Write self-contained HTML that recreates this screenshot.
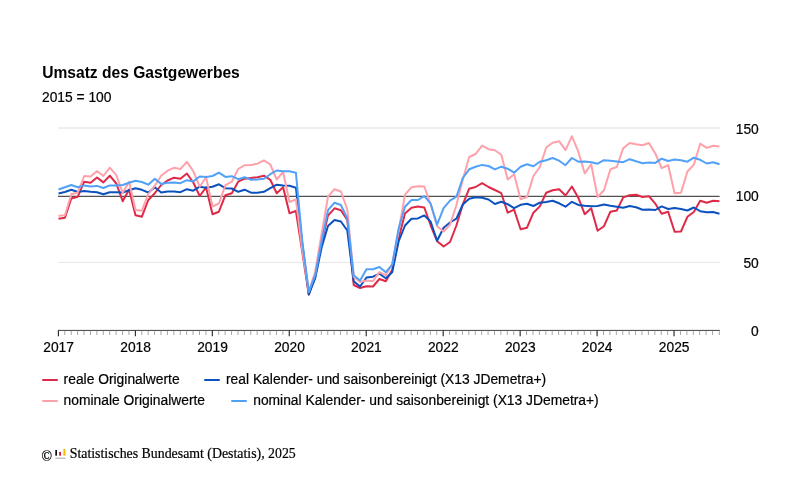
<!DOCTYPE html>
<html lang="de"><head><meta charset="utf-8"><title>Umsatz des Gastgewerbes</title>
<style>
html,body{margin:0;padding:0;background:#fff}
body{width:800px;height:500px;position:relative;overflow:hidden;font-family:"Liberation Sans",sans-serif;color:#000}
.t{position:absolute;white-space:nowrap;line-height:1}
.title{left:42.2px;top:65.3px;font-size:15.6px;font-weight:bold}
.sub{left:42px;top:90.7px;font-size:13.8px;-webkit-text-stroke:0.2px #000}
.lg{font-size:13.83px;-webkit-text-stroke:0.2px #000}
.sw{position:absolute;height:2px;width:16px;border-radius:1px}
.foot{font-family:"Liberation Serif",serif;font-size:13.85px;-webkit-text-stroke:0.2px #000}
</style></head><body>
<svg width="800" height="500" viewBox="0 0 800 500" style="position:absolute;left:0;top:0">
<line x1="58" x2="719.8" y1="128" y2="128" stroke="#dedede" stroke-width="1"/>
<line x1="58" x2="719.8" y1="262.4" y2="262.4" stroke="#dcdcdc" stroke-width="0.7"/>
<line x1="58" x2="719.6" y1="196.3" y2="196.3" stroke="#262626" stroke-width="1"/>
<line x1="58" x2="719.8" y1="330.4" y2="330.4" stroke="#2a2a2a" stroke-width="0.9"/>
<path d="M64.81 330.5V335M71.23 330.5V335M77.64 330.5V335M84.05 330.5V335M90.47 330.5V335M96.88 330.5V335M103.29 330.5V335M109.70 330.5V335M116.12 330.5V335M122.53 330.5V335M128.94 330.5V335M141.77 330.5V335M148.18 330.5V335M154.59 330.5V335M161.01 330.5V335M167.42 330.5V335M173.83 330.5V335M180.25 330.5V335M186.66 330.5V335M193.07 330.5V335M199.49 330.5V335M205.90 330.5V335M218.73 330.5V335M225.14 330.5V335M231.55 330.5V335M237.96 330.5V335M244.38 330.5V335M250.79 330.5V335M257.20 330.5V335M263.62 330.5V335M270.03 330.5V335M276.44 330.5V335M282.86 330.5V335M295.68 330.5V335M302.09 330.5V335M308.51 330.5V335M314.92 330.5V335M321.33 330.5V335M327.75 330.5V335M334.16 330.5V335M340.57 330.5V335M346.99 330.5V335M353.40 330.5V335M359.81 330.5V335M372.64 330.5V335M379.05 330.5V335M385.46 330.5V335M391.88 330.5V335M398.29 330.5V335M404.70 330.5V335M411.12 330.5V335M417.53 330.5V335M423.94 330.5V335M430.35 330.5V335M436.77 330.5V335M449.59 330.5V335M456.01 330.5V335M462.42 330.5V335M468.83 330.5V335M475.25 330.5V335M481.66 330.5V335M488.07 330.5V335M494.48 330.5V335M500.90 330.5V335M507.31 330.5V335M513.72 330.5V335M526.55 330.5V335M532.96 330.5V335M539.38 330.5V335M545.79 330.5V335M552.20 330.5V335M558.61 330.5V335M565.03 330.5V335M571.44 330.5V335M577.85 330.5V335M584.27 330.5V335M590.68 330.5V335M603.50 330.5V335M609.92 330.5V335M616.33 330.5V335M622.74 330.5V335M629.16 330.5V335M635.57 330.5V335M641.98 330.5V335M648.40 330.5V335M654.81 330.5V335M661.22 330.5V335M667.63 330.5V335M680.46 330.5V335M686.87 330.5V335M693.29 330.5V335M699.70 330.5V335M706.11 330.5V335M712.53 330.5V335M719.30 330.5V335" stroke="#808080" stroke-width="0.7" fill="none"/>
<path d="M58.40 330.5V336.3M135.36 330.5V336.3M212.31 330.5V336.3M289.27 330.5V336.3M366.22 330.5V336.3M443.18 330.5V336.3M520.14 330.5V336.3M597.09 330.5V336.3M674.05 330.5V336.3" stroke="#222" stroke-width="1.1" fill="none"/>
<g font-family="'Liberation Sans',sans-serif" font-size="13.8" fill="#000" stroke="#000" stroke-width="0.2">
<text x="58.6" y="352" text-anchor="middle">2017</text>
<text x="135.6" y="352" text-anchor="middle">2018</text>
<text x="212.5" y="352" text-anchor="middle">2019</text>
<text x="289.5" y="352" text-anchor="middle">2020</text>
<text x="366.4" y="352" text-anchor="middle">2021</text>
<text x="443.3" y="352" text-anchor="middle">2022</text>
<text x="520.3" y="352" text-anchor="middle">2023</text>
<text x="597.2" y="352" text-anchor="middle">2024</text>
<text x="674.2" y="352" text-anchor="middle">2025</text>
<text x="758.8" y="133.6" text-anchor="end">150</text>
<text x="758.8" y="201.4" text-anchor="end">100</text>
<text x="758.8" y="267.8" text-anchor="end">50</text>
<text x="758.8" y="335.5" text-anchor="end">0</text>
</g>
<polyline fill="none" stroke="#de2a48" stroke-width="2" stroke-linejoin="round" stroke-linecap="butt" points="58.5,218.7 64.9,217.8 71.3,198.5 77.8,196.7 84.2,181.7 90.6,182.7 97.0,177.5 103.4,182.4 109.8,175.7 116.3,183.5 122.7,201.2 129.1,189.5 135.5,215.2 141.9,216.7 148.3,200.0 154.8,193.2 161.2,185.0 167.6,180.5 174.0,177.7 180.4,178.7 186.9,173.5 193.3,182.5 199.7,196.0 206.1,187.4 212.5,214.3 218.9,211.7 225.4,195.2 231.8,193.3 238.2,181.7 244.6,178.7 251.0,178.0 257.4,177.2 263.9,175.7 270.3,179.8 276.7,193.3 283.1,187.3 289.5,213.2 295.9,211.0 302.4,252.9 308.8,294.7 315.2,276.0 321.6,243.0 328.0,215.5 334.5,208.3 340.9,210.2 347.3,220.0 353.7,285.0 360.1,288.0 366.5,286.2 373.0,286.5 379.4,279.0 385.8,281.2 392.2,270.0 398.6,238.5 405.0,213.5 411.5,207.8 417.9,206.4 424.3,207.5 430.7,225.5 437.1,241.2 443.6,246.5 450.0,242.0 456.4,225.5 462.8,204.5 469.2,188.7 475.6,187.0 482.1,183.2 488.5,187.0 494.9,190.0 501.3,193.2 507.7,212.7 514.1,209.7 520.6,229.2 527.0,227.7 533.4,212.7 539.8,206.4 546.2,192.8 552.6,190.2 559.1,189.2 565.5,195.5 571.9,186.5 578.3,197.7 584.7,214.2 591.2,208.2 597.6,230.7 604.0,226.2 610.4,211.7 616.8,210.5 623.2,197.4 629.7,195.2 636.1,194.7 642.5,197.0 648.9,196.2 655.3,203.7 661.7,213.8 668.2,211.7 674.6,231.8 681.0,231.5 687.4,216.8 693.8,212.0 700.2,200.7 706.7,202.7 713.1,200.7 719.5,201.2"/>
<polyline fill="none" stroke="#0c52bf" stroke-width="2" stroke-linejoin="round" stroke-linecap="butt" points="58.5,193.5 64.9,192.0 71.3,189.8 77.8,192.0 84.2,191.0 90.6,191.7 97.0,192.2 103.4,194.3 109.8,192.2 116.3,192.2 122.7,192.5 129.1,190.2 135.5,188.3 141.9,189.8 148.3,192.5 154.8,187.2 161.2,192.5 167.6,191.4 174.0,191.5 180.4,192.2 186.9,189.2 193.3,190.7 199.7,186.7 206.1,187.7 212.5,186.7 218.9,184.3 225.4,188.2 231.8,188.5 238.2,191.8 244.6,189.7 251.0,192.7 257.4,192.7 263.9,191.8 270.3,188.2 276.7,184.7 283.1,185.5 289.5,185.8 295.9,187.7 302.4,244.5 308.8,294.3 315.2,278.2 321.6,247.5 328.0,226.0 334.5,220.0 340.9,221.5 347.3,230.5 353.7,281.2 360.1,286.5 366.5,277.5 373.0,276.7 379.4,273.7 385.8,278.2 392.2,272.2 398.6,241.5 405.0,225.5 411.5,218.7 417.9,218.4 424.3,215.4 430.7,221.7 437.1,240.8 443.6,227.7 450.0,222.5 456.4,218.7 462.8,204.5 469.2,198.8 475.6,197.3 482.1,197.7 488.5,199.5 494.9,204.0 501.3,201.8 507.7,204.2 514.1,208.2 520.6,204.8 527.0,203.7 533.4,206.0 539.8,202.7 546.2,201.9 552.6,200.7 559.1,203.3 565.5,206.7 571.9,201.8 578.3,204.9 584.7,205.7 591.2,206.3 597.6,206.0 604.0,204.5 610.4,205.7 616.8,206.7 623.2,207.8 629.7,206.0 636.1,207.2 642.5,209.7 648.9,209.4 655.3,210.0 661.7,206.4 668.2,209.0 674.6,207.9 681.0,209.0 687.4,210.5 693.8,207.5 700.2,211.2 706.7,212.3 713.1,212.0 719.5,213.8"/>
<polyline fill="none" stroke="#ffa1aa" stroke-width="2" stroke-linejoin="round" stroke-linecap="butt" points="58.5,215.7 64.9,215.2 71.3,194.3 77.8,192.5 84.2,176.0 90.6,176.4 97.0,171.0 103.4,176.0 109.8,167.7 116.3,175.2 122.7,192.8 129.1,181.7 135.5,210.0 141.9,210.7 148.3,194.0 154.8,185.7 161.2,175.7 167.6,170.7 174.0,167.8 180.4,169.0 186.9,161.9 193.3,171.2 199.7,186.7 206.1,177.2 212.5,206.5 218.9,203.5 225.4,185.2 231.8,181.7 238.2,169.0 244.6,165.2 251.0,164.9 257.4,163.7 263.9,160.4 270.3,164.5 276.7,179.5 283.1,172.0 289.5,202.0 295.9,199.3 302.4,250.5 308.8,291.7 315.2,271.5 321.6,234.0 328.0,196.7 334.5,189.2 340.9,191.5 347.3,209.5 353.7,276.7 360.1,282.0 366.5,280.5 373.0,281.2 379.4,272.2 385.8,275.2 392.2,264.0 398.6,231.0 405.0,194.7 411.5,187.2 417.9,186.2 424.3,186.5 430.7,204.5 437.1,226.2 443.6,231.5 450.0,224.7 456.4,205.2 462.8,179.5 469.2,157.0 475.6,154.0 482.1,145.7 488.5,149.2 494.9,150.2 501.3,154.7 507.7,179.5 514.1,174.2 520.6,199.2 527.0,197.0 533.4,176.0 539.8,167.0 546.2,147.5 552.6,142.7 559.1,141.2 565.5,150.2 571.9,136.2 578.3,151.7 584.7,173.3 591.2,164.3 597.6,197.0 604.0,190.2 610.4,169.2 616.8,167.0 623.2,148.2 629.7,143.0 636.1,144.2 642.5,145.2 648.9,143.0 655.3,153.5 661.7,168.2 668.2,165.2 674.6,193.2 681.0,192.8 687.4,171.5 693.8,164.7 700.2,143.7 706.7,147.9 713.1,145.7 719.5,146.4"/>
<polyline fill="none" stroke="#52a1f8" stroke-width="2" stroke-linejoin="round" stroke-linecap="butt" points="58.5,189.5 64.9,187.2 71.3,185.0 77.8,187.2 84.2,185.4 90.6,186.5 97.0,185.9 103.4,188.0 109.8,185.4 116.3,185.4 122.7,185.0 129.1,182.7 135.5,180.8 141.9,182.0 148.3,184.7 154.8,178.7 161.2,183.9 167.6,182.7 174.0,182.5 180.4,183.2 186.9,180.2 193.3,181.4 199.7,176.5 206.1,176.9 212.5,176.0 218.9,172.7 225.4,176.9 231.8,176.2 238.2,179.2 244.6,177.2 251.0,179.8 257.4,179.5 263.9,178.7 270.3,174.2 276.7,170.5 283.1,171.2 289.5,171.2 295.9,172.7 302.4,242.5 308.8,291.7 315.2,275.2 321.6,241.5 328.0,210.2 334.5,202.7 340.9,205.0 347.3,218.5 353.7,275.2 360.1,280.5 366.5,269.2 373.0,269.2 379.4,267.0 385.8,272.2 392.2,264.7 398.6,228.5 405.0,206.7 411.5,200.0 417.9,200.0 424.3,196.2 430.7,203.7 437.1,224.7 443.6,208.2 450.0,200.7 456.4,196.7 462.8,178.0 469.2,169.3 475.6,166.7 482.1,164.9 488.5,166.0 494.9,169.4 501.3,166.7 507.7,168.7 514.1,172.7 520.6,166.7 527.0,164.3 533.4,166.2 539.8,161.7 546.2,160.2 552.6,158.0 559.1,160.7 565.5,165.2 571.9,158.0 578.3,161.7 584.7,161.4 591.2,162.2 597.6,163.7 604.0,160.2 610.4,160.7 616.8,161.4 623.2,162.2 629.7,159.2 636.1,161.3 642.5,163.2 648.9,162.5 655.3,162.9 661.7,158.7 668.2,161.0 674.6,159.5 681.0,160.2 687.4,161.7 693.8,157.7 700.2,159.8 706.7,163.5 713.1,162.2 719.5,164.3"/>
</svg>
<div class="t title">Umsatz des Gastgewerbes</div>
<div class="t sub">2015 = 100</div>
<div class="sw" style="left:42px;top:379.3px;background:#de2a48"></div>
<div class="t lg" style="left:63.6px;top:372.9px">reale Originalwerte</div>
<div class="sw" style="left:204.4px;top:379.3px;background:#0c52bf"></div>
<div class="t lg" style="left:226px;top:372.9px">real Kalender- und saisonbereinigt (X13 JDemetra+)</div>
<div class="sw" style="left:42px;top:400px;background:#ffa1aa"></div>
<div class="t lg" style="left:63.6px;top:393.9px">nominale Originalwerte</div>
<div class="sw" style="left:231.4px;top:400px;background:#52a1f8"></div>
<div class="t lg" style="left:253.2px;top:393.9px">nominal Kalender- und saisonbereinigt (X13 JDemetra+)</div>
<div class="t foot" style="left:41.5px;top:450.3px">&copy;</div>
<svg width="14" height="12" viewBox="0 0 14 12" style="position:absolute;left:54px;top:448px">
<rect x="1.3" y="2" width="1.7" height="5.7" fill="#111"/><rect x="5.1" y="3.9" width="1.9" height="3.8" fill="#d8232a"/><rect x="9.4" y="1" width="2" height="6.7" fill="#fbb900"/><rect x="1.3" y="9.7" width="10.3" height="0.9" fill="#9a9aa5"/>
</svg>
<div class="t foot" style="left:69.7px;top:446.6px">Statistisches Bundesamt (Destatis), 2025</div>
</body></html>
